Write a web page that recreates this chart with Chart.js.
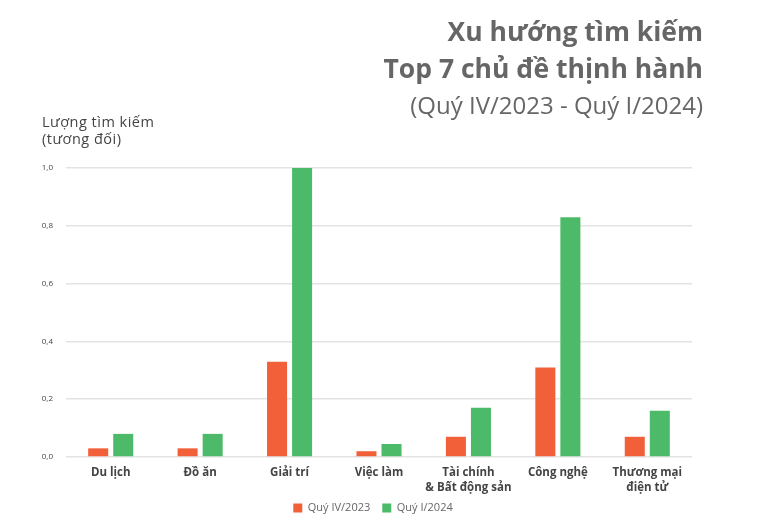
<!DOCTYPE html>
<html>
<head>
<meta charset="utf-8">
<script src="https://cdn.jsdelivr.net/npm/chart.js@4/dist/chart.umd.min.js"></script>
<style>
  body { margin: 0; background: #fff; }
  #wrap { position: relative; width: 762px; height: 525px; }
</style>
</head>
<body>
<div id="wrap"><canvas id="chart" width="762" height="525"></canvas></div>
<script>
var categories = [
    'Du lịch',
    'Đồ ăn',
    'Giải trí',
    'Việc làm',
    ['Tài chính', '& Bất động sản'],
    'Công nghệ',
    ['Thương mại', 'điện tử']
];
var q4_2023 = [0.03, 0.03, 0.33, 0.02, 0.07, 0.31, 0.07];
var q1_2024 = [0.08, 0.08, 1.0, 0.045, 0.17, 0.83, 0.16];
var seriesNames = ['Quý IV/2023', 'Quý I/2024'];
var yTicks = [0, 0.2, 0.4, 0.6, 0.8, 1.0];

var FONT = "'Open Sans', sans-serif";
var TEXT = '#666666';

// header text and the y axis caption
var headerText = {
    id: 'headerText',
    beforeDraw: function (chart) {
        // x labels overlap the legend padding, so don't clip them to the axis box
        chart.scales.x._computeLabelArea = function () { return undefined; };
    },
    afterDraw: function (chart) {
        var c = chart.ctx;
        c.save();
        c.fillStyle = TEXT;
        c.textAlign = 'right';
        c.textBaseline = 'middle';
        c.font = 'bold 26.5px ' + FONT;
        c.fillText('Xu hướng tìm kiếm', 703, 33);
        c.fillText('Top 7 chủ đề thịnh hành', 703, 70);
        c.font = '24px ' + FONT;
        c.fillText('(Quý IV/2023 - Quý I/2024)', 703, 107);
        c.textAlign = 'left';
        c.fillStyle = '#444444';
        c.font = '14.5px ' + FONT;
        c.letterSpacing = '0.5px';
        c.fillText('Lượng tìm kiếm', 42, 123);
        c.fillText('(tương đối)', 42, 140);
        c.restore();
    }
};

var ctx = document.getElementById('chart').getContext('2d');
var chart = new Chart(ctx, {
    type: 'bar',
    data: {
        labels: categories,
        datasets: [{
            label: seriesNames[0],
            data: q4_2023,
            backgroundColor: '#f2603a'
        }, {
            label: seriesNames[1],
            data: q1_2024,
            backgroundColor: '#4dba6a'
        }]
    },
    options: {
        responsive: false,
        animation: false,
        datasets: {
            bar: { categoryPercentage: 0.56, barPercentage: 0.8 }
        },
        layout: { padding: { left: 0, right: 16, top: 168, bottom: 1.5 } },
        scales: {
            x: {
                afterFit: function (scale) { scale.height = 33.5; },
                grid: { display: false, drawTicks: false },
                border: { display: false },
                ticks: {
                    color: '#444444',
                    font: { family: FONT, size: 11.5, weight: 'bold', lineHeight: 1.3 },
                    padding: 8,
                    maxRotation: 0,
                    autoSkip: false
                }
            },
            y: {
                min: 0,
                max: 1,
                afterFit: function (scale) { scale.width = 66; },
                afterBuildTicks: function (scale) {
                    scale.ticks = yTicks.map(function (v) { return { value: v }; });
                },
                grid: { color: '#e3e3e3', lineWidth: 1.5, drawTicks: false },
                border: { display: false },
                ticks: {
                    color: '#444444',
                    padding: 13,
                    font: { family: FONT, size: 8 },
                    callback: function (v) { return v.toFixed(1).replace('.', ','); }
                }
            },
            // empty right axis, only keeps the right margin off the legend
            yRight: {
                position: 'right',
                min: 0,
                max: 1,
                afterFit: function (scale) { scale.width = 54; },
                grid: { display: false },
                border: { display: false },
                ticks: { display: false }
            }
        },
        plugins: {
            legend: {
                position: 'bottom',
                labels: {
                    color: TEXT,
                    font: { family: FONT, size: 11 },
                    boxWidth: 9,
                    boxHeight: 9,
                    padding: 12
                }
            },
            tooltip: { enabled: false }
        }
    },
    plugins: [headerText]
});
</script>
</body>
</html>
